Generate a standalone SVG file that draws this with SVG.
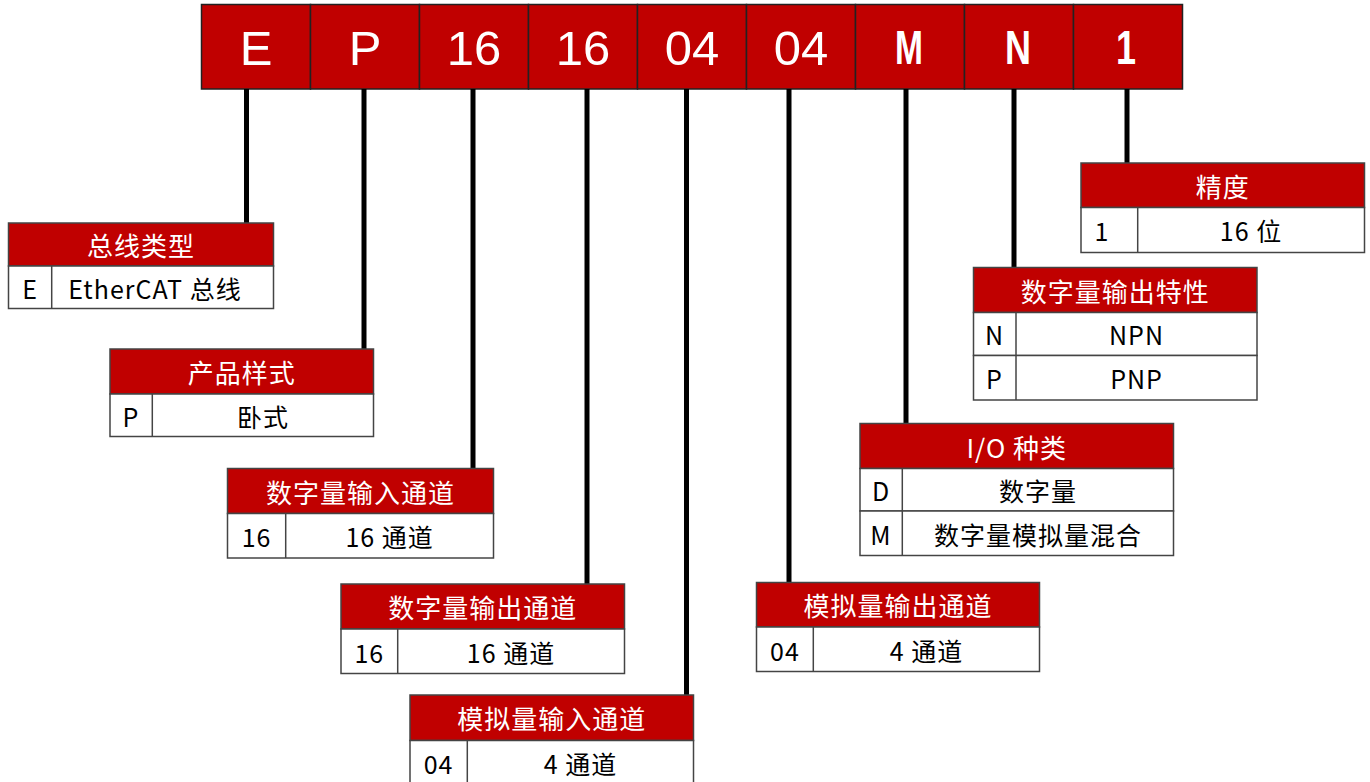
<svg xmlns="http://www.w3.org/2000/svg" width="1370" height="782" viewBox="0 0 1370 782">
<style>
.cell{fill:#C00000;stroke:#222;stroke-width:1.5}
.code{fill:#fff;font-family:"Liberation Sans","Noto Sans CJK SC",sans-serif;font-size:49px;text-anchor:middle}
.codeb{fill:#fff;font-family:"Liberation Sans","Noto Sans CJK SC",sans-serif;font-size:48px;font-weight:bold;text-anchor:middle}
.hd{fill:#C00000;stroke:#444;stroke-width:1.5}
.row{fill:#fff;stroke:#444;stroke-width:1.5}
.ht{fill:#fff;font-family:"Noto Sans CJK SC",sans-serif;font-size:26px;letter-spacing:1px;text-anchor:middle;dominant-baseline:central}
.bt{fill:#000;font-family:"Noto Sans CJK SC",sans-serif;font-size:25px;letter-spacing:1px;text-anchor:middle;dominant-baseline:central}
.conn line{stroke:#000;stroke-width:5}
</style>
<g id="code-bar">
<rect class="cell" x="201.5" y="4.5" width="109" height="84.5"/>
<rect class="cell" x="310.5" y="4.5" width="109" height="84.5"/>
<rect class="cell" x="419.5" y="4.5" width="109" height="84.5"/>
<rect class="cell" x="528.5" y="4.5" width="109" height="84.5"/>
<rect class="cell" x="637.5" y="4.5" width="109" height="84.5"/>
<rect class="cell" x="746.5" y="4.5" width="109" height="84.5"/>
<rect class="cell" x="855.5" y="4.5" width="109" height="84.5"/>
<rect class="cell" x="964.5" y="4.5" width="109" height="84.5"/>
<rect class="cell" x="1073.5" y="4.5" width="109" height="84.5"/>
<text class="code" x="256" y="65">E</text>
<text class="code" x="365" y="65">P</text>
<text class="code" x="474" y="65">16</text>
<text class="code" x="583" y="65">16</text>
<text class="code" x="692" y="65">04</text>
<text class="code" x="801" y="65">04</text>
<text class="codeb" transform="translate(909,64) scale(0.7,1)">M</text>
<text class="codeb" transform="translate(1018,64) scale(0.75,1)">N</text>
<text class="codeb" transform="translate(1126,64) scale(0.75,1)">1</text>
</g>
<g class="conn" id="connectors">
<line x1="246.5" y1="89" x2="246.5" y2="223"/>
<line x1="364" y1="89" x2="364" y2="349"/>
<line x1="473" y1="89" x2="473" y2="468.5"/>
<line x1="587" y1="89" x2="587" y2="584"/>
<line x1="686.5" y1="89" x2="686.5" y2="695"/>
<line x1="789" y1="89" x2="789" y2="582.5"/>
<line x1="906" y1="89" x2="906" y2="423.5"/>
<line x1="1014" y1="89" x2="1014" y2="267.5"/>
<line x1="1127" y1="89" x2="1127" y2="163"/>
</g>
<g id="t-bus">
<rect class="hd" x="8.5" y="223" width="265" height="43"/>
<rect class="row" x="8.5" y="266" width="265" height="42.5"/>
<line x1="51.7" y1="266" x2="51.7" y2="308.5" stroke="#444" stroke-width="1.5"/>
<text class="ht" x="141" y="244.5">总线类型</text>
<text class="bt" x="30" y="287.5">E</text>
<text class="bt" x="155" y="287.5">EtherCAT 总线</text>
</g>
<g id="t-style">
<rect class="hd" x="110" y="349" width="263.5" height="45"/>
<rect class="row" x="110" y="394" width="263.5" height="42.5"/>
<line x1="152.3" y1="394" x2="152.3" y2="436.5" stroke="#444" stroke-width="1.5"/>
<text class="ht" x="241.8" y="371.5">产品样式</text>
<text class="bt" x="131" y="415.5">P</text>
<text class="bt" x="263" y="415.5">卧式</text>
</g>
<g id="t-di">
<rect class="hd" x="227.5" y="468.5" width="266" height="45"/>
<rect class="row" x="227.5" y="513.5" width="266" height="44.5"/>
<line x1="285.7" y1="513.5" x2="285.7" y2="558" stroke="#444" stroke-width="1.5"/>
<text class="ht" x="360.5" y="491">数字量输入通道</text>
<text class="bt" x="256.6" y="536">16</text>
<text class="bt" x="389.6" y="536">16 通道</text>
</g>
<g id="t-do">
<rect class="hd" x="341" y="584" width="283.5" height="45"/>
<rect class="row" x="341" y="629" width="283.5" height="44.5"/>
<line x1="397.7" y1="629" x2="397.7" y2="673.5" stroke="#444" stroke-width="1.5"/>
<text class="ht" x="482.7" y="606.5">数字量输出通道</text>
<text class="bt" x="369.3" y="651.5">16</text>
<text class="bt" x="511" y="651.5">16 通道</text>
</g>
<g id="t-ai">
<rect class="hd" x="410" y="695" width="283.5" height="45.5"/>
<rect class="row" x="410" y="740.5" width="283.5" height="46"/>
<line x1="467.3" y1="740.5" x2="467.3" y2="786.5" stroke="#444" stroke-width="1.5"/>
<text class="ht" x="551.7" y="717.7">模拟量输入通道</text>
<text class="bt" x="438.6" y="763">04</text>
<text class="bt" x="580.4" y="763">4 通道</text>
</g>
<g id="t-io">
<rect class="hd" x="860" y="423.5" width="313.5" height="45"/>
<rect class="row" x="860" y="468.5" width="313.5" height="42.5"/>
<rect class="row" x="860" y="511" width="313.5" height="44.5"/>
<line x1="902.3" y1="468.5" x2="902.3" y2="555.5" stroke="#444" stroke-width="1.5"/>
<text class="ht" x="1016.7" y="446">I/O 种类</text>
<text class="bt" x="881" y="490">D</text>
<text class="bt" x="1038" y="490">数字量</text>
<text class="bt" x="881" y="533.5">M</text>
<text class="bt" x="1038" y="533.5">数字量模拟量混合</text>
</g>
<g id="t-ao">
<rect class="hd" x="756.5" y="582.5" width="283" height="44.5"/>
<rect class="row" x="756.5" y="627" width="283" height="44.5"/>
<line x1="813.3" y1="627" x2="813.3" y2="671.5" stroke="#444" stroke-width="1.5"/>
<text class="ht" x="898" y="604.7">模拟量输出通道</text>
<text class="bt" x="785" y="649.5">04</text>
<text class="bt" x="926.4" y="649.5">4 通道</text>
</g>
<g id="t-precision">
<rect class="hd" x="1081" y="163" width="283.5" height="44.5"/>
<rect class="row" x="1081" y="207.5" width="283.5" height="45"/>
<line x1="1137.7" y1="207.5" x2="1137.7" y2="252.5" stroke="#444" stroke-width="1.5"/>
<text class="ht" x="1222.7" y="185.2">精度</text>
<text class="bt" x="1102" y="230">1</text>
<text class="bt" x="1251" y="230">16 位</text>
</g>
<g id="t-dochar">
<rect class="hd" x="973.5" y="267.5" width="283.5" height="45"/>
<rect class="row" x="973.5" y="312.5" width="283.5" height="43"/>
<rect class="row" x="973.5" y="355.5" width="283.5" height="44.5"/>
<line x1="1016" y1="312.5" x2="1016" y2="400" stroke="#444" stroke-width="1.5"/>
<text class="ht" x="1115.2" y="290">数字量输出特性</text>
<text class="bt" x="994.5" y="334">N</text>
<text class="bt" x="1136.5" y="334">NPN</text>
<text class="bt" x="994.5" y="377.7">P</text>
<text class="bt" x="1136.5" y="377.7">PNP</text>
</g>
</svg>
